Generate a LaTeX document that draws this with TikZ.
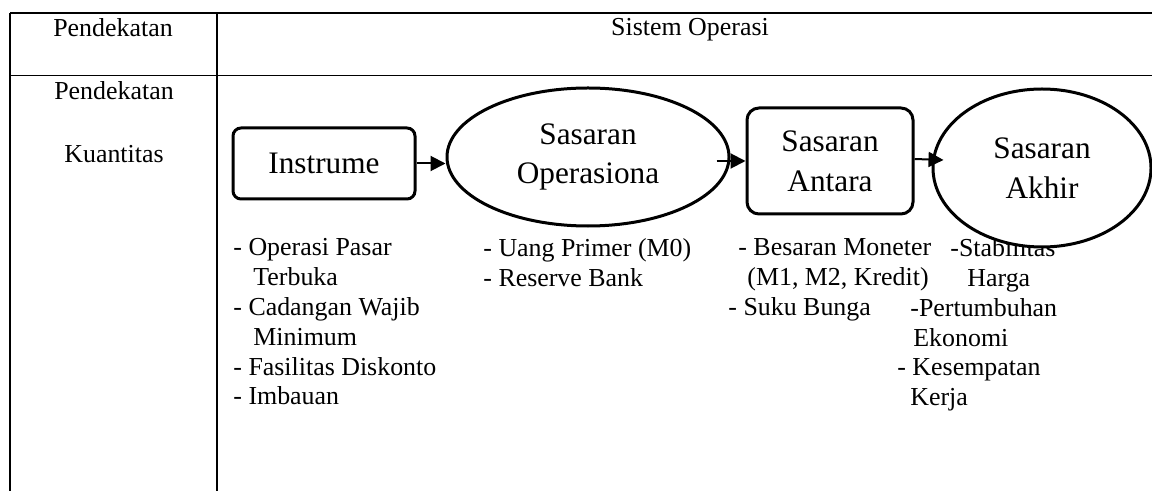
\documentclass[tikz,border=0pt]{standalone}
\usepackage{fontspec}
\setmainfont{Liberation Serif}
\usetikzlibrary{arrows.meta,shapes.geometric}

\begin{document}
\begin{tikzpicture}
[x=0.5bp,y=-0.5bp
,grid/.style={line width=0.6bp}
,hd/.style={font=\fontsize{13}{15}\selectfont,inner sep=0pt,anchor=base}
,lst/.style={font=\fontsize{13}{15}\selectfont,inner sep=0pt,align=left,anchor=north west}
,sb/.style={draw,line width=1.5bp,fill=white,font=\fontsize{15.7}{20}\selectfont,align=center,inner sep=0pt}
,tbox/.style={sb,rectangle,rounded corners=4bp}
,goal/.style={sb,ellipse}
,ar/.style={line width=1bp,-{Triangle[length=7.5bp,width=7.5bp]}}
]
\useasboundingbox (0,0) rectangle (1152,491);
% table
\draw[grid] (10,13) -- (1152,13);
\draw[grid] (10,75.5) -- (1152,75.5);
\draw[grid] (10,13) -- (10,491);
\draw[grid] (217,13) -- (217,491);
\node[hd] (h1) at (113,37) {Pendekatan};
\node[hd] (h2) at (690,36) {Sistem Operasi};
\node[hd] (p1) at (114,100) {Pendekatan};
\node[hd] (p2) at (114,163) {Kuantitas};
% lists under the shapes
\node[lst] (l1) at (233,238) {- Operasi Pasar\\\hspace*{10bp}Terbuka\\- Cadangan Wajib\\\hspace*{10bp}Minimum\\- Fasilitas Diskonto\\- Imbauan};
\node[lst] (l2) at (483,238) {- Uang Primer (M0)\\- Reserve Bank};
\node[lst] (l3) at (728,238) {\hspace*{5bp}- Besaran Moneter\\\hspace*{9.5bp}(M1, M2, Kredit)\\- Suku Bunga};
\node[lst] (l4) at (897,238) {\hspace*{26.5bp}-Stabilitas\\\hspace*{35bp}Harga\\\hspace*{6.5bp}-Pertumbuhan\\\hspace*{8bp}Ekonomi\\- Kesempatan\\\hspace*{6.5bp}Kerja};
% shapes
\node[tbox,minimum width=91bp,minimum height=35.5bp] (ins) at (324,163.5) {Instrume};
\node[goal,minimum width=141bp,minimum height=69bp] (op) at (588,157) {Sasaran\\Operasiona};
\node[tbox,rounded corners=6bp,minimum width=83bp,minimum height=53bp] (ant) at (830,161) {Sasaran\\Antara};
\node[goal,minimum width=109bp,minimum height=79bp] (akh) at (1042,168) {Sasaran\\Akhir};
\coordinate (o2) at ([xshift=-7bp]op.east);
\draw[ar] (ins.east) -- (ins.east -| op.west);
\draw[ar] (o2 |- ant.west) -- (ant.west);
\draw[ar] ([yshift=1bp]ant.east) -- ([xshift=6bp,yshift=4bp]akh.west);
\end{tikzpicture}
\end{document}
